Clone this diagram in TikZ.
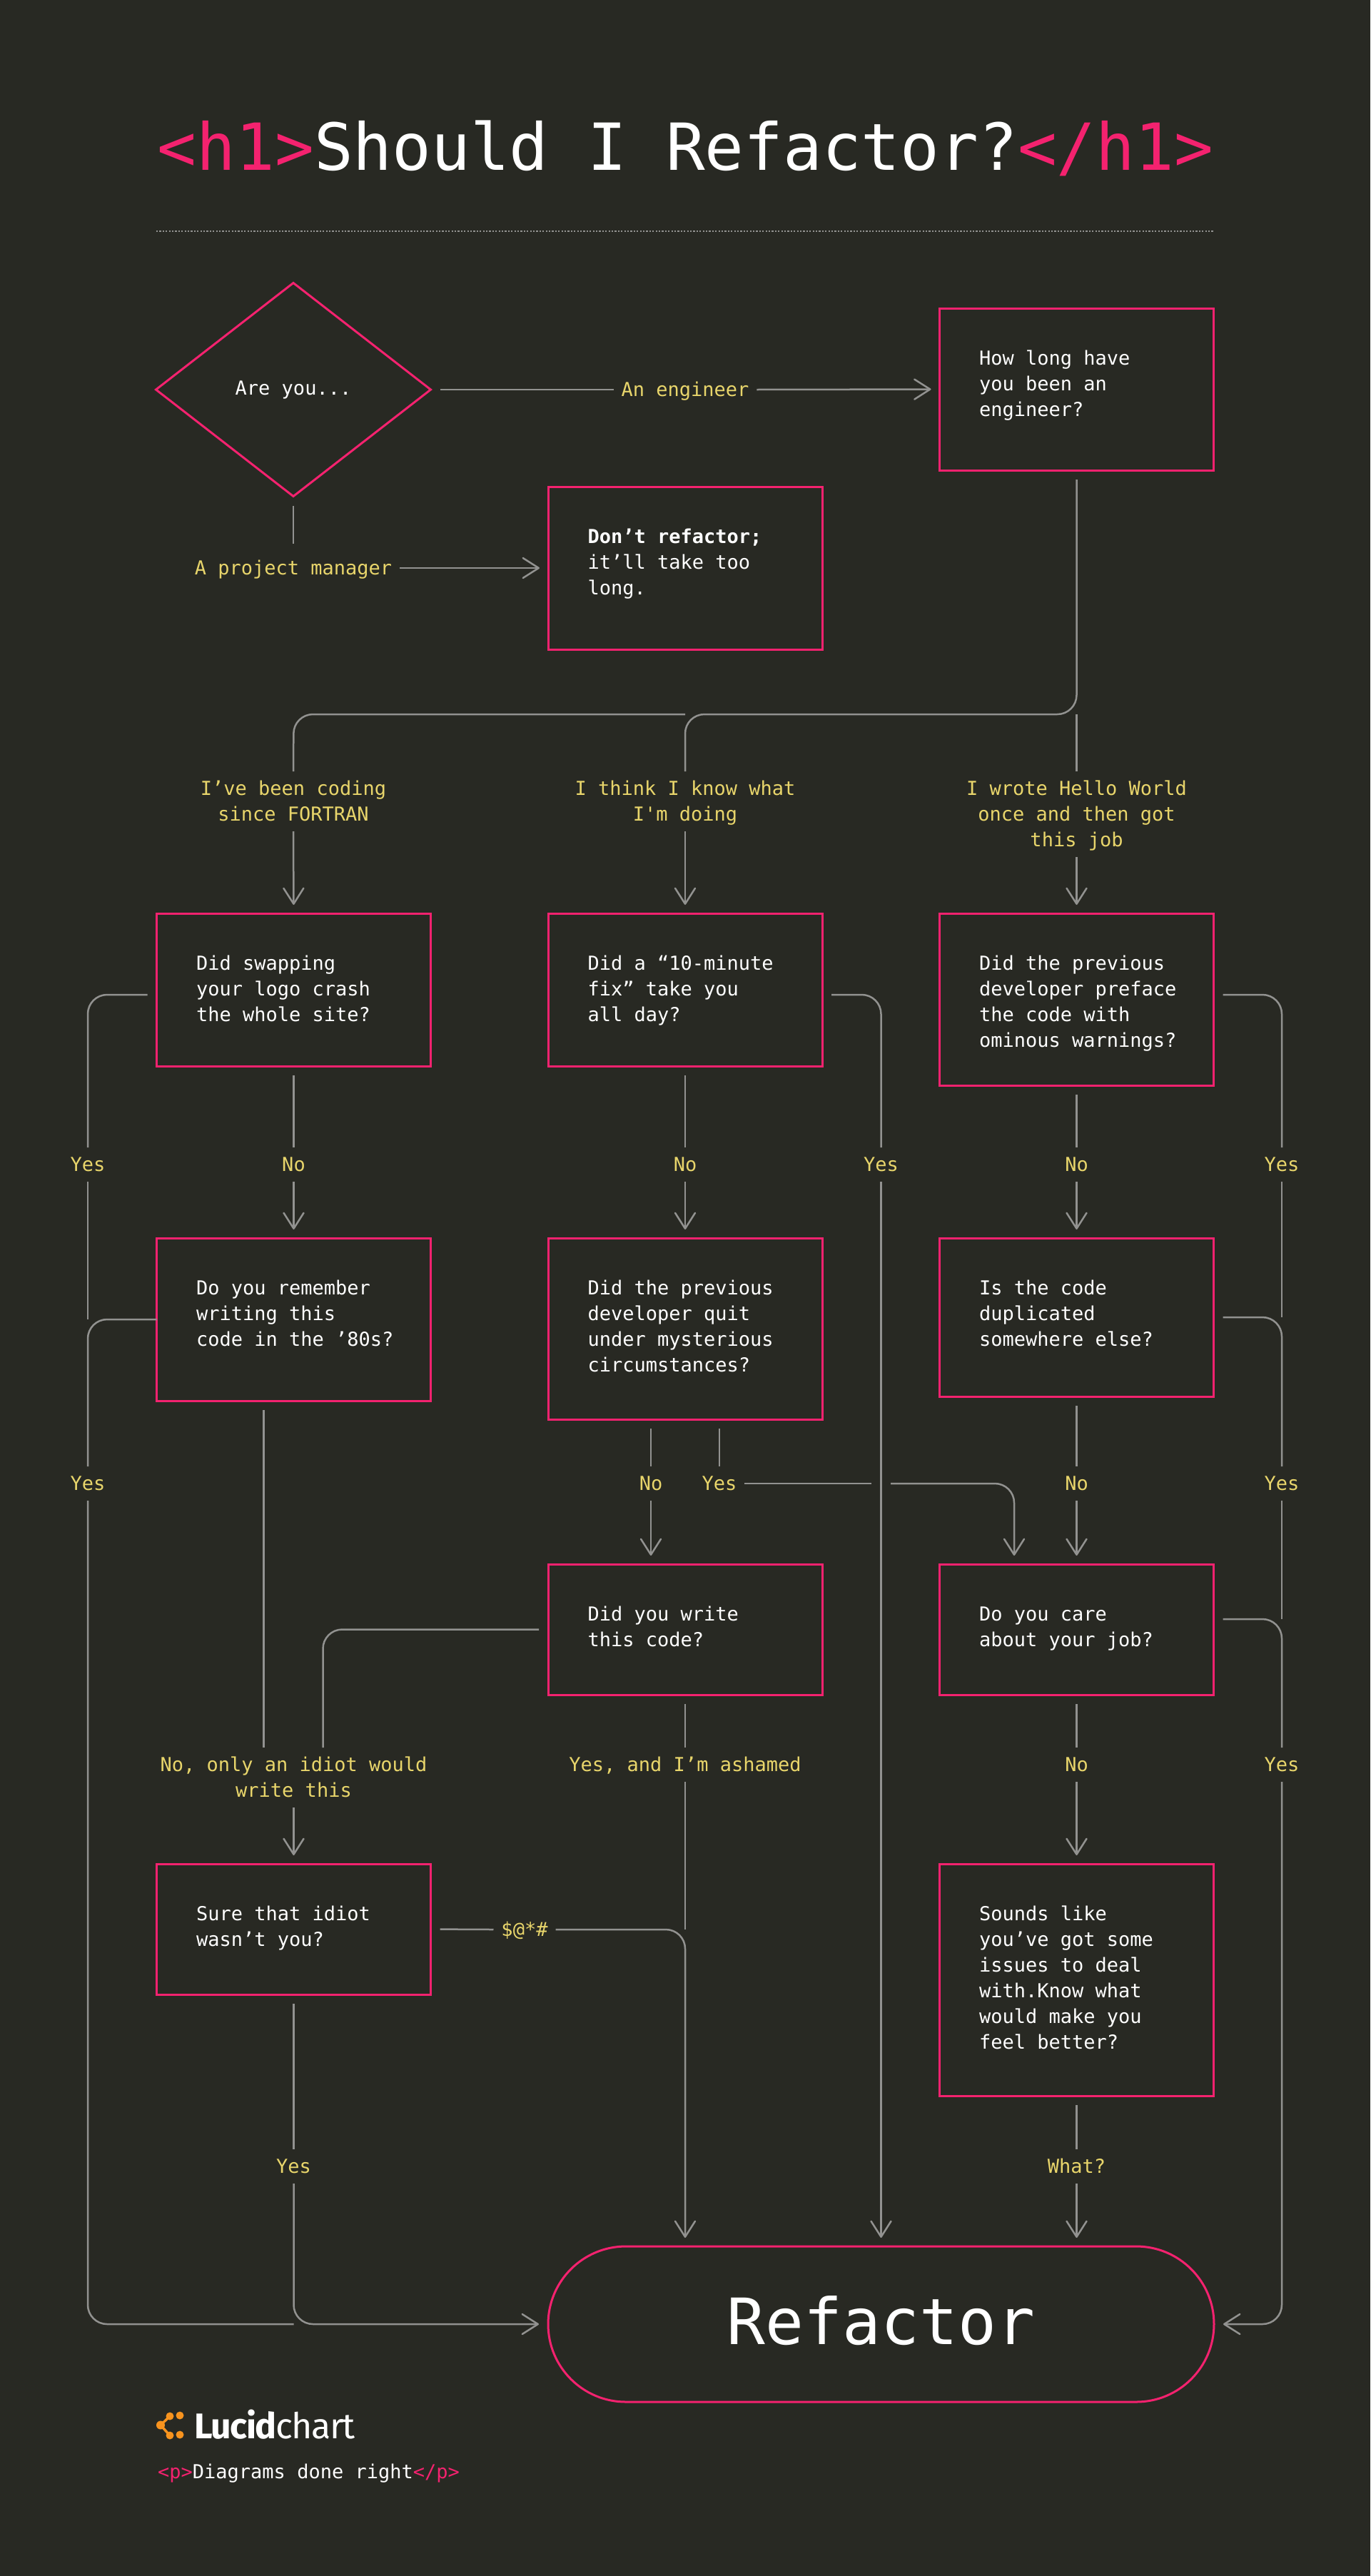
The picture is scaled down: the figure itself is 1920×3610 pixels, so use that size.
\documentclass[tikz,border=0pt]{standalone}
\usepackage{fontspec}
\usetikzlibrary{arrows.meta,shapes.geometric}
\newfontfamily\codef{DejaVu Sans Mono}
\newfontfamily\logof{Fira Sans}
\definecolor{bgc}{HTML}{282923}
\definecolor{pinkc}{HTML}{F4226F}
\definecolor{yelc}{HTML}{E8D56B}
\definecolor{linec}{HTML}{929290}
\definecolor{orangec}{HTML}{F7931E}
\newcommand\Sx{\leavevmode\vrule height 27.5pt depth 8.5pt width 0pt\relax}
\newcommand\bodyfont{\codef\fontsize{27}{36}\selectfont}
\newcommand\qbox[6]{%
  \node[qnode,minimum width=#4pt,minimum height=#5pt] (#1) at (#2,#3)
    {\parbox[t][#5pt][t]{#4pt}{\leftskip=55.5pt\rightskip=0pt plus 1fil\relax\vspace*{51.5pt}\Sx #6\par}};}
\tikzset{
  x=1pt,y=-1pt,
  qnode/.style={draw=pinkc,line width=3pt,anchor=north west,inner sep=0pt,outer sep=0pt,text=white,font=\bodyfont},
  lab/.style={text=yelc,font=\bodyfont,align=center,inner xsep=11pt,inner ysep=6pt,outer sep=0pt},
  conn/.style={draw=linec,line width=2.5pt,rounded corners=27pt},
  arr/.style={conn,-{Straight Barb[length=22pt,width=28pt,line width=2.5pt,round]},shorten >=12pt},
  fromb/.style={shorten <=13pt}
}
\begin{document}
\begin{tikzpicture}
\fill[bgc] (0,0) rectangle (1920,3610);
\useasboundingbox (0,0) rectangle (1920,3610);

% title
\node[anchor=base,text=white,inner sep=0pt] (title) at (960.5,238)
  {\codef\fontsize{91}{100}\selectfont\textcolor{pinkc}{<h1>}Should I Refactor?\textcolor{pinkc}{</h1>}};
\coordinate (ruleL) at (219,324);
\coordinate (ruleR) at (1701,324);
\draw[linec,line width=2.5pt,dash pattern=on 2.2pt off 2.2pt] (ruleL) -- (ruleR);

% decision nodes
\node[diamond,draw=pinkc,line width=3pt,minimum width=385pt,minimum height=299pt,inner sep=0pt,outer sep=0pt,text=white,font=\bodyfont] (are) at (411,546) {Are you...};
\qbox{how}{1316.5}{432}{384}{227}{How long have\\\Sx you been an\\\Sx engineer?}
\qbox{dont}{768}{682}{384}{228}{\textbf{Don’t refactor;}\\\Sx it’ll take too\\\Sx long.}
\qbox{swap}{219.5}{1280}{384}{214}{Did swapping\\\Sx your logo crash\\\Sx the whole site?}
\qbox{fix}{768}{1280}{384}{214}{Did a “10-minute\\\Sx fix” take you\\\Sx all day?}
\qbox{warn}{1316.5}{1280}{384}{241}{Did the previous\\\Sx developer preface\\\Sx the code with\\\Sx ominous warnings?}
\qbox{rem}{219.5}{1735}{384}{228}{Do you remember\\\Sx writing this\\\Sx code in the ’80s?}
\qbox{quit}{768}{1735}{384}{254}{Did the previous\\\Sx developer quit\\\Sx under mysterious\\\Sx circumstances?}
\qbox{dup}{1316.5}{1735}{384}{222}{Is the code\\\Sx duplicated\\\Sx somewhere else?}
\qbox{wrote}{768}{2192}{384}{183}{Did you write\\\Sx this code?}
\qbox{care}{1316.5}{2192}{384}{183}{Do you care\\\Sx about your job?}
\qbox{sure}{219.5}{2612}{384}{183}{Sure that idiot\\\Sx wasn’t you?}
\qbox{issues}{1316.5}{2612}{384}{325}{Sounds like\\\Sx you’ve got some\\\Sx issues to deal\\\Sx with.Know what\\\Sx would make you\\\Sx feel better?}
\node[draw=pinkc,line width=3pt,rounded corners=109pt,minimum width=933pt,minimum height=218pt,inner sep=0pt,outer sep=0pt,text=white] (ref) at (1234.5,3257)
  {\raisebox{12pt}{\codef\fontsize{89.5}{100}\selectfont Refactor}};

% labels
\node[lab] (lEng) at (960,546) {\Sx An engineer};
\node[lab] (lPm) at (411,796) {\Sx A project manager};
\node[lab] (lFor) at (411,1123) {\Sx I’ve been coding\\\Sx since FORTRAN};
\node[lab] (lThink) at (960,1123) {\Sx I think I know what\\\Sx I'm doing};
\node[lab] (lHello) at (1508.5,1141) {\Sx I wrote Hello World\\\Sx once and then got\\\Sx this job};
\node[lab] (yA) at (123,1632) {\Sx Yes};
\node[lab] (nA) at (411.5,1632) {\Sx No};
\node[lab] (nB) at (960,1632) {\Sx No};
\node[lab] (yB) at (1234.5,1632) {\Sx Yes};
\node[lab] (nC) at (1508.5,1632) {\Sx No};
\node[lab] (yC) at (1796,1632) {\Sx Yes};
\node[lab] (yD) at (123,2079) {\Sx Yes};
\node[lab] (nE) at (912,2079) {\Sx No};
\node[lab] (yE) at (1008,2079) {\Sx Yes};
\node[lab] (nF) at (1508.5,2079) {\Sx No};
\node[lab] (yF) at (1796,2079) {\Sx Yes};
\node[lab] (lIdiot) at (411.5,2491) {\Sx No, only an idiot would\\\Sx write this};
\node[lab] (lAsh) at (960,2473) {\Sx Yes, and I’m ashamed};
\node[lab] (nG) at (1508.5,2473) {\Sx No};
\node[lab] (yG) at (1796,2473) {\Sx Yes};
\node[lab] (lCurse) at (735,2704) {\Sx\$@*\#};
\node[lab] (yH) at (411.5,3036) {\Sx Yes};
\node[lab] (lWhat) at (1508.5,3036) {\Sx What?};

% free junctions
\coordinate (jR) at (1508.5,1001);
\coordinate (jM) at (960,1001);
\coordinate (jL) at (411.5,1001);
\coordinate (endA) at (123,1849);
\coordinate (endC) at (1796,1846);
\coordinate (endF) at (1796,2269);
\coordinate (joinL) at (411.5,3257);
\coordinate (endAsh) at (960,2704);
\coordinate (crossL) at (1220.5,2079);
\coordinate (crossR) at (1248,2079);

% connectors
\draw[conn,fromb] (are.east) -- (lEng.west);
\draw[arr] (lEng.east) -- (how.west);
\draw[conn,fromb,shorten >=10pt] (are.south) -- (lPm.north);
\draw[arr] (lPm.east) -- (dont.west);

\draw[conn,fromb] (how.south) -- (jR) -- (jM) -- (lThink.north);
\draw[conn] (jM) -- (jL) -- (lFor.north);
\draw[conn] (jR) -- (lHello.north);
\draw[arr] (lFor.south) -- (swap.north);
\draw[arr] (lThink.south) -- (fix.north);
\draw[arr] (lHello.south) -- (warn.north);

\draw[conn,fromb] (swap.south) -- (nA.north);
\draw[arr] (nA.south) -- (rem.north);
\draw[conn,fromb] (fix.south) -- (nB.north);
\draw[arr] (nB.south) -- (quit.north);
\draw[conn,fromb] (warn.south) -- (nC.north);
\draw[arr] (nC.south) -- (dup.north);

\draw[conn,fromb] ([yshift=-7pt]swap.west) -| (yA.north);
\draw[conn] (yA.south) -- (endA);
\draw[conn] (rem.west) -| (yD.north);
\draw[conn] (yD.south) |- (joinL);
\draw[conn,fromb] ([yshift=-7pt]fix.east) -| (yB.north);
\draw[arr] (yB.south) -- (ref.north);
\draw[conn,fromb] ([yshift=6.5pt]warn.east) -| (yC.north);
\draw[conn] (yC.south) -- (endC);
\draw[conn,fromb] (dup.east) -| (yF.north);
\draw[conn] (yF.south) -- (endF);

\draw[conn,fromb] ([xshift=-48pt]quit.south) -- (nE.north);
\draw[arr] (nE.south) -- ([xshift=-48pt]wrote.north);
\draw[conn,fromb] ([xshift=48pt]quit.south) -- (yE.north);
\draw[conn] (yE.east) -- (crossL);
\draw[arr] (crossR) -| ([xshift=-87.5pt]care.north);
\draw[conn,fromb] (dup.south) -- (nF.north);
\draw[arr] (nF.south) -- (care.north);

\draw[conn,fromb] ([yshift=14.5pt]care.east) -| (yG.north);
\draw[arr,shorten >=13pt] (yG.south) |- (ref.east);
\draw[conn,fromb] (care.south) -- (nG.north);
\draw[arr] (nG.south) -- (issues.north);
\draw[conn,fromb] (issues.south) -- (lWhat.north);
\draw[arr] (lWhat.south) -- ([xshift=274pt]ref.north);

\draw[conn,fromb] ([xshift=-42pt]rem.south) -- ([xshift=-42pt]lIdiot.north);
\draw[conn,fromb] (wrote.west) -| ([xshift=41pt]lIdiot.north);
\draw[arr] (lIdiot.south) -- (sure.north);
\draw[conn,fromb] (wrote.south) -- (lAsh.north);
\draw[conn] (lAsh.south) -- (endAsh);
\draw[conn,fromb] (sure.east) -- (lCurse.west);
\draw[arr] (lCurse.east) -| ([xshift=-274.5pt]ref.north);
\draw[conn,fromb] (sure.south) -- (yH.north);
\draw[arr,shorten >=13pt] (yH.south) |- (ref.west);

% logo
\draw[orangec,line width=3.5pt] (238,3386) -- (225,3398.5) -- (238,3413);
\fill[orangec] (238,3386) circle (5.5) (252,3385) circle (5.5) (225,3398.5) circle (6) (238,3413) circle (5.5) (252,3412) circle (5.5);
\node[anchor=base west,inner sep=0pt,text=white] (logo) at (272,3417)
  {\logof\fontsize{50}{56}\selectfont\addfontfeature{LetterSpace=-3}\textbf{Lucid}chart};
\node[anchor=base west,inner sep=0pt,text=white,font=\bodyfont] (tag) at (221,3473)
  {\textcolor{pinkc}{<p>}Diagrams done right\textcolor{pinkc}{</p>}};
\end{tikzpicture}
\end{document}
